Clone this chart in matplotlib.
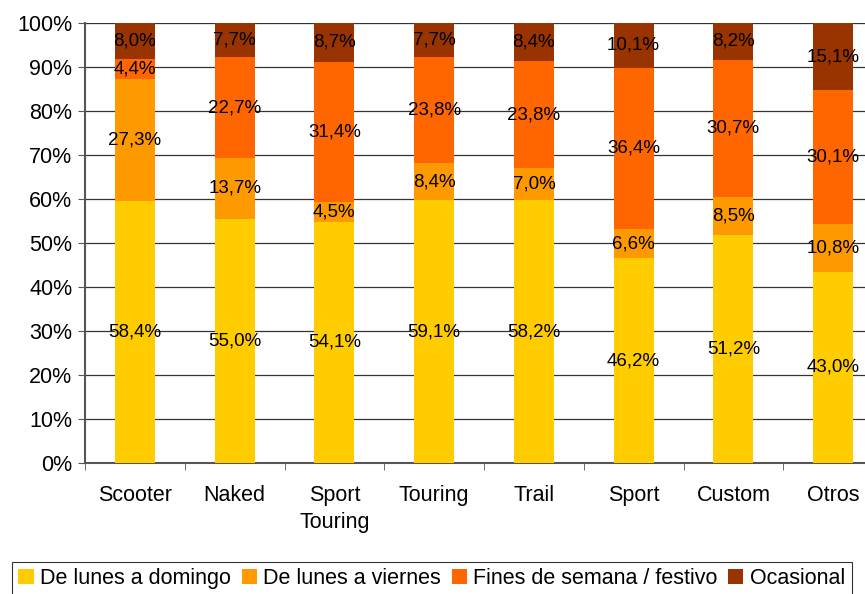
import matplotlib.pyplot as plt
import numpy as np

plt.rcParams['font.family'] = ['Liberation Sans', 'DejaVu Sans']

categories = ['Scooter', 'Naked', 'Sport\nTouring', 'Touring', 'Trail', 'Sport', 'Custom', 'Otros']
series_names = ['De lunes a domingo', 'De lunes a viernes', 'Fines de semana / festivo', 'Ocasional']
lunes_domingo = [58.4, 55.0, 54.1, 59.1, 58.2, 46.2, 51.2, 43.0]
lunes_viernes = [27.3, 13.7, 4.5, 8.4, 7.0, 6.6, 8.5, 10.8]
fines_semana = [4.4, 22.7, 31.4, 23.8, 23.8, 36.4, 30.7, 30.1]
ocasional = [8.0, 7.7, 8.7, 7.7, 8.4, 10.1, 8.2, 15.1]
colors = ['#FFCC00', '#FF9900', '#FF6600', '#993300']

raw = np.array([lunes_domingo, lunes_viernes, fines_semana, ocasional])
# bars are stacked to 100% (the raw values don't quite add up)
norm = raw / raw.sum(axis=0) * 100

fig = plt.figure(figsize=(8.65, 5.94), dpi=100)
ax = fig.add_axes([85 / 865, 1 - 463 / 594, 798 / 865, 440 / 594])

x = np.arange(len(categories))
bottom = np.zeros(len(categories))
for i in range(4):
    ax.bar(x, norm[i], 0.4, bottom=bottom, color=colors[i], label=series_names[i], zorder=3)
    for j in range(len(categories)):
        ax.text(x[j], bottom[j] + norm[i][j] / 2, f'{raw[i][j]:.1f}%'.replace('.', ','),
                ha='center', va='center', fontsize=13.5, color='black', zorder=4)
    bottom += norm[i]

ax.set_xlim(-0.5, len(categories) - 0.5)
ax.set_ylim(0, 100)
ax.set_yticks(np.arange(0, 101, 10))
ax.set_yticklabels([f'{v}%' for v in range(0, 101, 10)], fontsize=15.5)
ax.yaxis.grid(True, color='#333333', linewidth=0.9, zorder=0)
ax.axhline(100, color='#999999', linewidth=1.5, zorder=1)

ax.set_xticks(x)
ax.set_xticklabels(categories, fontsize=15.5, linespacing=1.35)
ax.tick_params(axis='x', length=0, pad=16)
ax.set_xticks(np.arange(-0.5, len(categories), 1), minor=True)
ax.tick_params(axis='x', which='minor', length=5, color='#555555')
ax.tick_params(axis='y', length=5, color='#555555', pad=4)

for s in ['top', 'right']:
    ax.spines[s].set_visible(False)
for s in ['left', 'bottom']:
    ax.spines[s].set_color('#555555')
    ax.spines[s].set_linewidth(1.5)

leg = fig.legend(loc='lower left', bbox_to_anchor=(12 / 865, -0.003), ncol=4, fontsize=15.5,
                 frameon=True, fancybox=False, edgecolor='black', handlelength=0.7,
                 handleheight=0.7, handletextpad=0.3, columnspacing=0.5, borderpad=0.3,
                 borderaxespad=0)
leg.get_frame().set_linewidth(0.8)

fig.savefig('out.png', dpi=100)
